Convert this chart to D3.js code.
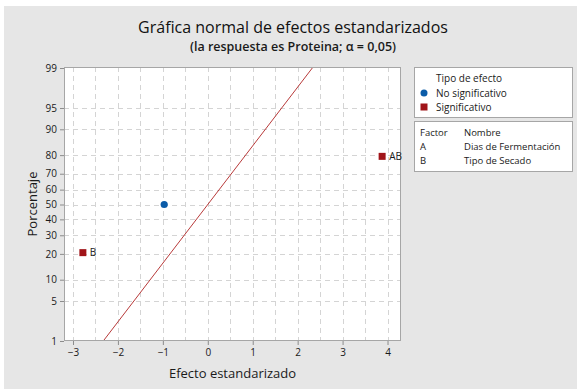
<!DOCTYPE html>
<html lang="es">
<head>
<meta charset="UTF-8">
<title>Gráfica normal de efectos estandarizados</title>
<script src="https://cdn.jsdelivr.net/npm/d3@7"></script>
<style>
  body { margin: 0; background: #fff; }
  text { font-family: "Open Sans", "Noto Sans", sans-serif; fill: #1a1a1a; }
</style>
</head>
<body>
<svg id="chart" width="577" height="389"></svg>
<script>
    // datos
    let terms = ["A", "B", "AB"];
    let effects = [-0.97, -2.78, 3.88];
    let percents = [50, 20.6, 79.4];
    let significant = [false, true, true];

    let lineEffects = [-2.326, 2.326];
    let linePercents = [1, 99];

    let xTicks = [-3, -2, -1, 0, 1, 2, 3, 4];
    let yTicks = [1, 5, 10, 20, 30, 40, 50, 60, 70, 80, 90, 95, 99];
    let factorCodes = ["A", "B"];
    let factorNames = ["Dias de Fermentación", "Tipo de Secado"];

    // inversa de la normal (aprox. de Acklam)
    function probit(p) {
        let a = [-39.69683028665376, 220.9460984245205, -275.9285104469687, 138.3577518672690, -30.66479806614716, 2.506628277459239],
            b = [-54.47609879822406, 161.5858368580409, -155.6989798598866, 66.80131188771972, -13.28068155288572],
            c = [-0.007784894002430293, -0.3223964580411365, -2.400758277161838, -2.549732539343734, 4.374664141464968, 2.938163982698783],
            d = [0.007784695709041462, 0.3224671290700398, 2.445134137142996, 3.754408661907416];
        let pl = 0.02425, q, r;
        if (p < pl) {
            q = Math.sqrt(-2 * Math.log(p));
            return (((((c[0]*q+c[1])*q+c[2])*q+c[3])*q+c[4])*q+c[5]) / ((((d[0]*q+d[1])*q+d[2])*q+d[3])*q+1);
        }
        if (p > 1 - pl) {
            q = Math.sqrt(-2 * Math.log(1 - p));
            return -(((((c[0]*q+c[1])*q+c[2])*q+c[3])*q+c[4])*q+c[5]) / ((((d[0]*q+d[1])*q+d[2])*q+d[3])*q+1);
        }
        q = p - 0.5; r = q * q;
        return (((((a[0]*r+a[1])*r+a[2])*r+a[3])*r+a[4])*r+a[5])*q / (((((b[0]*r+b[1])*r+b[2])*r+b[3])*r+b[4])*r+1);
    }

    let svg = d3.select('#chart');
    svg.append('rect').attr('x', 4).attr('y', 6).attr('width', 573).attr('height', 383).attr('fill', '#e6e6e6');

    let pLeft = 64, pRight = 401, pTop = 67, pBottom = 341;
    let x = d3.scaleLinear().domain([-3.2, 4.3]).range([pLeft, pRight]);
    let z = d3.scaleLinear().domain([probit(0.01), probit(0.99)]).range([pBottom, pTop + 1]);
    let y = p => z(probit(p / 100));

    svg.append('rect').attr('x', pLeft).attr('y', pTop).attr('width', pRight - pLeft).attr('height', pBottom - pTop)
        .attr('fill', '#fff');

    // rejilla
    let grid = svg.append('g').attr('stroke', '#d4d4d4').attr('stroke-dasharray', '5,4').attr('stroke-width', 1);
    d3.range(-3, 4.01, 0.5).forEach(v => {
        grid.append('line').attr('x1', Math.round(x(v)) + 0.5).attr('x2', Math.round(x(v)) + 0.5)
            .attr('y1', pTop).attr('y2', pBottom);
    });
    yTicks.filter(p => p > 1 && p < 99).forEach(p => {
        grid.append('line').attr('y1', Math.round(y(p)) + 0.5).attr('y2', Math.round(y(p)) + 0.5)
            .attr('x1', pLeft).attr('x2', pRight);
    });

    // linea de referencia
    svg.append('clipPath').attr('id', 'clip').append('rect')
        .attr('x', pLeft).attr('y', pTop).attr('width', pRight - pLeft).attr('height', pBottom - pTop);
    svg.append('path')
        .datum(lineEffects.map((e, i) => [e, linePercents[i]]))
        .attr('clip-path', 'url(#clip)')
        .attr('d', d3.line().x(d => x(d[0])).y(d => y(d[1])))
        .attr('stroke', '#b83a3a').attr('stroke-width', 1).attr('fill', 'none');

    // marco
    svg.append('rect').attr('x', pLeft + 0.5).attr('y', pTop + 0.5).attr('width', pRight - pLeft - 1).attr('height', pBottom - pTop - 1)
        .attr('fill', 'none').attr('stroke', '#a6a6a6');

    // ejes
    let xAxis = svg.append('g').attr('transform', 'translate(0,' + pBottom + ')')
        .call(d3.axisBottom(x).tickValues(xTicks).tickSize(4).tickPadding(4).tickFormat(d3.format('d')));
    let yAxis = svg.append('g').attr('transform', 'translate(' + pLeft + ',0)')
        .call(d3.axisLeft(z).tickValues(yTicks.map(p => probit(p / 100))).tickSize(4).tickPadding(3)
            .tickFormat((d, i) => yTicks[i]));
    [xAxis, yAxis].forEach(a => {
        a.select('.domain').remove();
        a.selectAll('line').attr('stroke', '#8c8c8c');
        a.selectAll('text').style('font-size', '10px').style('font-family', '"Open Sans", sans-serif').attr('fill', '#262626');
    });

    // puntos
    let pts = terms.map((t, i) => ({t: t, e: effects[i], p: percents[i], s: significant[i]}));
    svg.selectAll('circle.pt').data(pts.filter(d => !d.s)).enter()
        .append('circle').attr('class', 'pt')
        .attr('cx', d => x(d.e)).attr('cy', d => y(d.p)).attr('r', 3.6).attr('fill', '#0b5ca8');
    svg.selectAll('rect.pt').data(pts.filter(d => d.s)).enter()
        .append('rect').attr('class', 'pt')
        .attr('x', d => x(d.e) - 3.5).attr('y', d => y(d.p) - 3.5).attr('width', 7).attr('height', 7).attr('fill', '#a01419');
    svg.selectAll('text.pt').data(pts.filter(d => d.s)).enter()
        .append('text').attr('class', 'pt')
        .attr('x', d => x(d.e) + 7).attr('y', d => y(d.p) + 3.5)
        .style('font-size', '10px').text(d => d.t);

    // titulos
    svg.append('text').attr('x', 293).attr('y', 33).attr('text-anchor', 'middle')
        .style('font-size', '16px').style('fill', '#111').text('Gráfica normal de efectos estandarizados');
    svg.append('text').attr('x', 293).attr('y', 51).attr('text-anchor', 'middle')
        .style('font-size', '12.5px').style('font-weight', 600).text('(la respuesta es Proteina; α = 0,05)');
    svg.append('text').attr('x', (pLeft + pRight) / 2).attr('y', 378).attr('text-anchor', 'middle')
        .style('font-size', '13px').text('Efecto estandarizado');
    svg.append('text').attr('transform', 'translate(37,' + (pTop + pBottom) / 2 + ') rotate(-90)')
        .attr('text-anchor', 'middle').style('font-size', '13px').text('Porcentaje');

    // leyenda tipo de efecto
    let lg = svg.append('g');
    lg.append('rect').attr('x', 414.5).attr('y', 67.5).attr('width', 158).attr('height', 50)
        .attr('fill', '#fff').attr('stroke', '#a6a6a6');
    lg.append('text').attr('x', 436).attr('y', 82).style('font-size', '10px').text('Tipo de efecto');
    lg.append('circle').attr('cx', 424).attr('cy', 93).attr('r', 3.5).attr('fill', '#0b5ca8');
    lg.append('text').attr('x', 436).attr('y', 96.5).style('font-size', '10px').text('No significativo');
    lg.append('rect').attr('x', 420.5).attr('y', 103.5).attr('width', 7).attr('height', 7).attr('fill', '#a01419');
    lg.append('text').attr('x', 436).attr('y', 110.5).style('font-size', '10px').text('Significativo');

    // tabla de factores
    let ft = svg.append('g');
    ft.append('rect').attr('x', 414.5).attr('y', 121.5).attr('width', 158).attr('height', 50)
        .attr('fill', '#fff').attr('stroke', '#a6a6a6');
    ft.append('text').attr('x', 420).attr('y', 136).style('font-size', '9.5px').text('Factor');
    ft.append('text').attr('x', 464).attr('y', 136).style('font-size', '9.5px').text('Nombre');
    factorCodes.forEach((f, i) => {
        ft.append('text').attr('x', 420).attr('y', 150 + i * 13.5).style('font-size', '9.5px').text(f);
        ft.append('text').attr('x', 464).attr('y', 150 + i * 13.5).style('font-size', '9.5px').text(factorNames[i]);
    });
</script>
</body>
</html>
